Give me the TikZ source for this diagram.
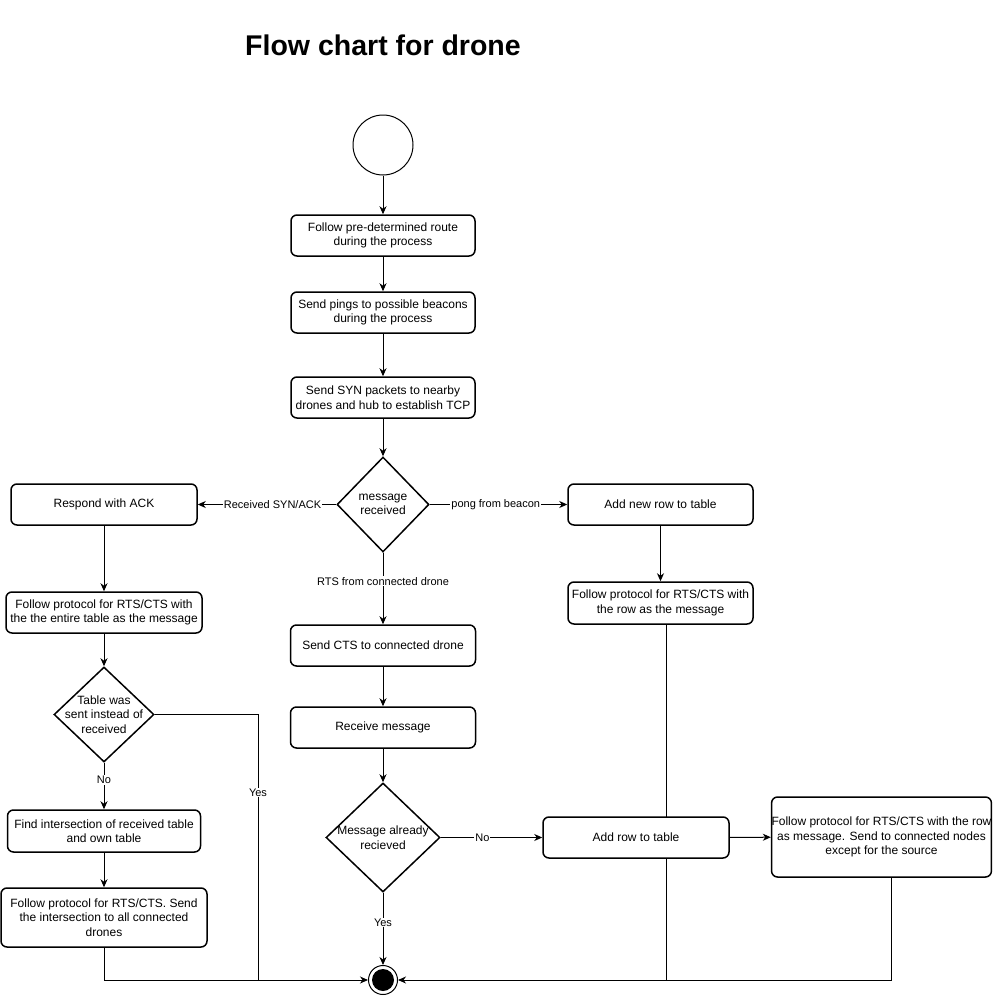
\documentclass[tikz,border=0pt]{standalone}
\usepackage{fontspec}
\setmainfont{Liberation Sans}
\usetikzlibrary{shapes.geometric,arrows.meta,calc}
\pgfdeclarelayer{background}
\pgfsetlayers{background,main}
\begin{document}
\begin{tikzpicture}[x=1pt,y=-1pt,
  every node/.style={font=\fontsize{12}{14.5}\selectfont, text=black},
  box/.style={draw, fill=white, line width=1.5pt, rounded corners=6pt, align=center, inner sep=0pt},
  dia/.style={draw, fill=white, diamond, line width=1.5pt, inner sep=0pt},
  dtext/.style={align=center, inner sep=0pt},
  conn/.style={line width=1pt, -{Stealth[length=8pt,width=7pt,inset=2.5pt]}},
  plain/.style={line width=1pt},
  elabel/.style={fill=white, inner sep=1pt, font=\fontsize{11}{13}\selectfont}
]
\useasboundingbox (0,0) rectangle (1002,996);

\node[font=\bfseries\fontsize{28.5}{32}\selectfont] (title) at (383,45) {Flow chart for drone};

\node[circle, draw, line width=1pt, minimum size=60pt, inner sep=0pt] (start) at (383,145) {};

\node[box, minimum width=184pt, minimum height=41pt] (b1) at (383,235.5) {Follow pre-determined route\\during the process};
\node[box, minimum width=184pt, minimum height=41pt] (b2) at (383,312.5) {Send pings to possible beacons\\during the process};
\node[box, minimum width=184pt, minimum height=41pt] (b3) at (383,397.5) {Send SYN packets to nearby\\drones and hub to establish TCP};

\node[dia, minimum width=92pt, minimum height=95pt] (d1) at (383,504.5) {};
\node[dtext] (d1t) at (d1.center) {message\\received};

\node[box, minimum width=186pt, minimum height=41pt] (ack) at (104,504.5) {Respond with ACK};
\node[box, minimum width=185pt, minimum height=41pt] (addnew) at (660.5,504.5) {Add new row to table};

\node[box, minimum width=196pt, minimum height=41pt] (ftable) at (104,612.5) {Follow protocol for RTS/CTS with\\the the entire table as the message};
\node[box, minimum width=185pt, minimum height=42pt] (rowmsg) at (660.5,603) {Follow protocol for RTS/CTS with\\the row as the message};

\node[box, minimum width=185pt, minimum height=41pt] (cts) at (383,645.5) {Send CTS to connected drone};
\node[box, minimum width=185pt, minimum height=41pt] (recv) at (383,727.5) {Receive message};

\node[dia, minimum width=100pt, minimum height=95pt] (d3) at (104,714.5) {};
\node[dtext] (d3t) at (d3.center) {Table was\\sent instead of\\received};

\node[dia, minimum width=114pt, minimum height=109pt] (d2) at (383,837.5) {};
\node[dtext] (d2t) at (d2.center) {Message already\\recieved};

\node[box, minimum width=186pt, minimum height=41pt] (addrow) at (636,837.5) {Add row to table};
\node[box, minimum width=217pt, minimum height=80pt] (big) at (881.5,837) {Follow protocol for RTS/CTS with the row\\as message. Send to connected nodes\\except for the source};

\node[box, minimum width=193pt, minimum height=42pt] (find) at (104,831) {Find intersection of received table\\and own table};
\node[box, minimum width=206pt, minimum height=59pt] (fint) at (104,917.5) {Follow protocol for RTS/CTS. Send\\the intersection to all connected\\drones};

\node[circle, draw, line width=1pt, fill=white, minimum size=29pt, inner sep=0pt] (end) at (383,980) {};
\fill (end.center) circle (11pt);

\coordinate (leftjoin) at (258,980);
\coordinate (rightjoin) at (666,980);

\begin{pgfonlayer}{background}
\draw[conn] (start) -- (b1);
\draw[conn] (b1) -- (b2);
\draw[conn] (b2) -- (b3);
\draw[conn] (b3) -- (d1);
\draw[conn] (d1.west) -- node[elabel, pos=0.46] (lsyn) {Received SYN/ACK} (ack.east);
\draw[conn] (d1.east) -- node[elabel, pos=0.48] (lpong) {pong from beacon} (addnew.west);
\draw[conn] (d1.south) -- node[elabel, pos=0.4] (lrts) {RTS from connected drone} (cts.north);
\draw[conn] (ack) -- (ftable);
\draw[conn] (ftable) -- (d3);
\draw[conn] (d3.south) -- node[elabel, pos=0.375] (lno1) {No} (find.north);
\draw[conn] (find) -- (fint);
\draw[conn] (fint.south) |- (end.west);
\draw[plain] (d3.east) -| node[elabel, pos=0.647] (lyes1) {Yes} (leftjoin);
\draw[conn] (addnew) -- (rowmsg);
\draw[conn] ([xshift=5.5pt]rowmsg.south) |- (end.east);
\draw[conn] (cts) -- (recv);
\draw[conn] (recv) -- (d2);
\draw[conn] (d2.east) -- node[elabel, pos=0.41] (lno2) {No} (addrow.west);
\draw[conn] (d2.south) -- node[elabel, pos=0.41] (lyes2) {Yes} (end.north);
\draw[conn] (addrow) -- (big);
\draw[plain] ([xshift=10pt]big.south) |- (rightjoin);
\end{pgfonlayer}
\end{tikzpicture}
\end{document}
